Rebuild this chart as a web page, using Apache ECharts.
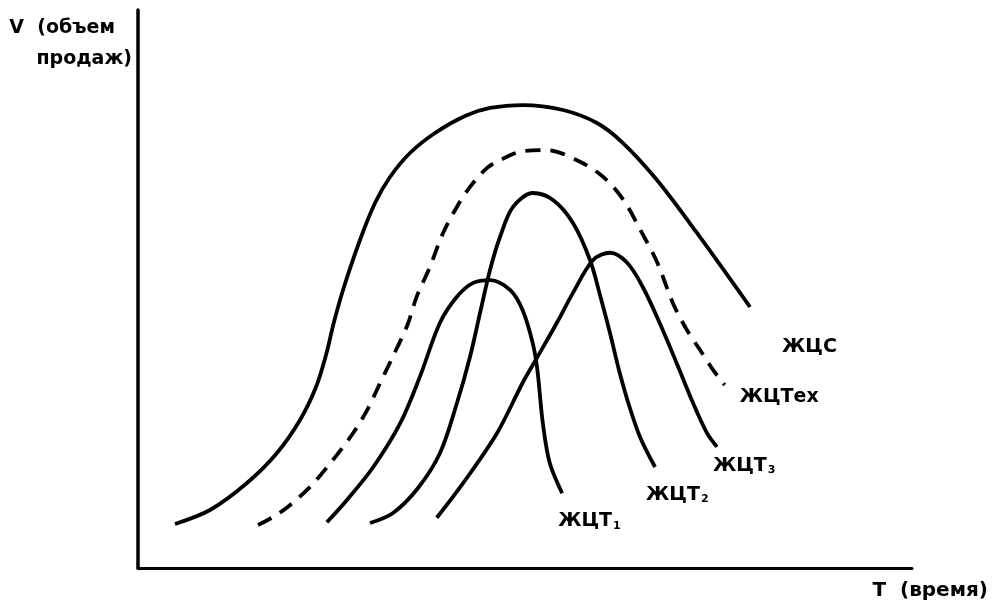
<!DOCTYPE html>
<html>
<head>
<meta charset="utf-8">
<title>Жизненный цикл спроса, технологии и товаров</title>
<script src="https://cdn.jsdelivr.net/npm/echarts@6/dist/echarts.min.js"></script>
<style>
  html, body { margin: 0; padding: 0; background: #fff; }
  #chart { width: 992px; height: 604px; }
</style>
</head>
<body>
<div id="chart"></div>
<script>
// Curves as [time, volume] pairs, both on a 0..100 scale.
// ЖЦС — жизненный цикл спроса
const jcs = [
  [4.78, 7.89], [9.30, 10.39], [14.08, 15.23], [17.96, 20.61], [20.93, 26.52],
  [23.00, 32.44], [24.29, 38.17], [25.32, 44.09], [26.61, 50.36], [28.68, 58.78],
  [30.62, 65.41], [32.56, 70.07], [35.14, 74.37], [38.37, 77.96], [42.25, 81.00],
  [45.48, 82.44], [49.74, 82.97], [54.91, 82.08], [59.30, 79.75], [62.66, 76.16],
  [67.05, 69.53], [72.22, 60.04], [79.07, 46.77]
];
// ЖЦТех — жизненный цикл технологии
const jcTech = [
  [15.5, 7.7], [17.4, 9.1], [19.3, 10.9], [22.2, 14.5], [25.2, 19.4], [27.8, 24.2],
  [29.6, 28.3], [31.3, 33.2], [32.9, 37.8], [34.8, 43.5], [36.0, 48.6], [37.7, 53.9],
  [39.4, 60.0], [41.2, 64.7], [42.9, 68.3], [45.1, 71.7], [46.8, 73.1], [49.4, 74.6],
  [52.8, 74.9], [57.1, 72.8], [60.1, 70.1], [62.7, 66.0], [64.9, 60.6], [67.1, 54.7],
  [69.1, 47.5], [70.9, 42.7], [72.6, 39.1], [74.3, 35.5], [75.8, 32.8]
];
// ЖЦТ1, ЖЦТ2, ЖЦТ3 — жизненные циклы товаров
const jct1 = [
  [24.4, 8.2], [27.0, 12.2], [30.4, 18.1], [33.9, 26.0], [36.4, 34.2], [39.0, 43.9],
  [41.2, 48.6], [43.3, 51.1], [45.5, 51.6], [48.1, 49.8], [49.7, 46.2], [51.0, 40.3],
  [51.6, 35.5], [52.3, 26.0], [53.2, 18.8], [54.8, 13.4]
];
const jct2 = [
  [29.97, 8.06], [32.95, 9.86], [36.18, 14.34], [39.02, 20.61], [41.21, 29.57],
  [42.89, 37.81], [44.19, 45.70], [45.48, 53.41], [46.77, 59.32], [48.45, 64.70],
  [51.03, 67.20], [53.62, 65.95], [56.20, 61.83], [58.40, 55.20], [59.69, 48.92],
  [60.98, 42.11], [62.14, 35.48], [63.31, 29.75], [64.86, 23.48], [66.80, 18.10]
];
const jct3 = [
  [38.6, 9.0], [42.0, 15.2], [46.4, 24.2], [49.7, 33.2], [51.6, 37.8], [54.1, 43.9],
  [56.2, 49.3], [58.8, 55.2], [61.0, 56.5], [63.2, 54.7], [65.2, 50.4], [67.4, 43.9],
  [69.6, 36.7], [71.7, 29.6], [73.5, 24.2], [74.8, 21.7]
];

const axisNames = { y: ['V  (объем', 'продаж)'], x: 'T  (время)' };

const FONT = '"DejaVu Sans", "Liberation Sans", Arial, sans-serif';
const INK = '#000';

const richStyles = {
  m: { fontFamily: FONT, fontWeight: 'bold', fontSize: 19, color: INK },
  s: { fontFamily: FONT, fontWeight: 'bold', fontSize: 11, color: INK,
       verticalAlign: 'bottom', padding: [9, 0, 0, 1] }
};

function curve(name, data, label, offset, dashed) {
  return {
    name: name,
    type: 'line',
    data: data,
    smooth: 0.33,
    symbol: 'none',
    silent: true,
    lineStyle: {
      color: INK,
      width: 3.8,
      type: dashed ? [15, 10] : 'solid',
      cap: 'butt'
    },
    endLabel: {
      show: true,
      distance: 0,
      offset: offset,
      align: 'left',
      verticalAlign: 'middle',
      formatter: label,
      rich: richStyles
    }
  };
}

const chart = echarts.init(document.getElementById('chart'), null, { renderer: 'canvas' });

chart.setOption({
  backgroundColor: '#fff',
  animation: false,
  grid: { left: 138, right: 80, top: 10, bottom: 36 },
  xAxis: {
    type: 'value', min: 0, max: 100,
    axisLine: { show: true, onZero: false, lineStyle: { color: INK, width: 3 } },
    axisTick: { show: false }, axisLabel: { show: false }, splitLine: { show: false },
    name: axisNames.x,
    nameLocation: 'end',
    nameGap: 76,
    nameTextStyle: {
      fontFamily: FONT, fontWeight: 'bold', fontSize: 20, color: INK,
      align: 'right', verticalAlign: 'top', padding: [13, 0, 0, 0]
    }
  },
  yAxis: {
    type: 'value', min: 0, max: 100,
    axisLine: { show: true, onZero: false, lineStyle: { color: INK, width: 3.5 } },
    axisTick: { show: false }, axisLabel: { show: false }, splitLine: { show: false },
    name: '{a|' + axisNames.y[0] + '}\n{b|' + axisNames.y[1] + '}',
    nameLocation: 'end',
    nameGap: -3,
    nameTextStyle: {
      align: 'right', verticalAlign: 'top',
      rich: {
        a: { fontFamily: FONT, fontWeight: 'bold', fontSize: 19, color: INK,
             lineHeight: 31, padding: [0, 23, 0, 0] },
        b: { fontFamily: FONT, fontWeight: 'bold', fontSize: 19, color: INK,
             lineHeight: 31, padding: [0, 6, 0, 0] }
      }
    }
  },
  series: [
    curve('ЖЦС', jcs, '{m|ЖЦС}', [32, 40], false),
    curve('ЖЦТех', jcTech, '{m|ЖЦТех}', [15, 12], true),
    curve('ЖЦТ1', jct1, '{m|ЖЦТ}{s|1}', [-4, 28], false),
    curve('ЖЦТ2', jct2, '{m|ЖЦТ}{s|2}', [-9, 28], false),
    curve('ЖЦТ3', jct3, '{m|ЖЦТ}{s|3}', [-4, 19], false)
  ]
});
</script>
</body>
</html>
